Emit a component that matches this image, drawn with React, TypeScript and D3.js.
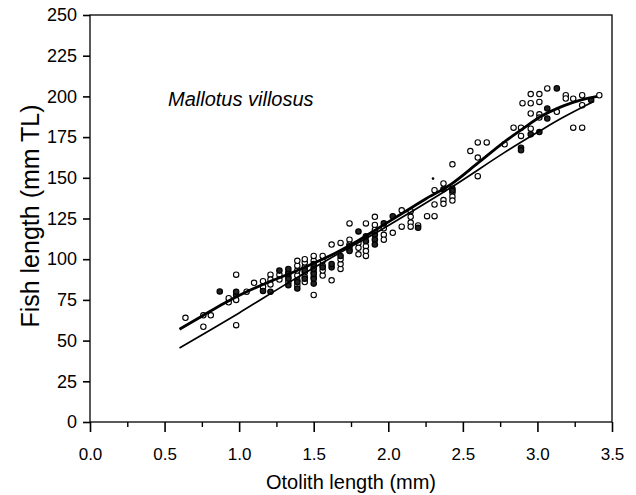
import React, { useEffect, useRef } from "react";
import * as d3 from "d3";

const xTicks = [0, 0.5, 1, 1.5, 2, 2.5, 3, 3.5];
const xMinorTicks = [0.25, 0.75, 1.25, 1.75, 2.25, 2.75, 3.25];
const yTicks = [0, 25, 50, 75, 100, 125, 150, 175, 200, 225, 250];

const speciesLabel = "Mallotus villosus";
const xTitle = "Otolith length (mm)";
const yTitle = "Fish length (mm TL)";

const openPoints: [number, number][] = [
  [0.64, 64], [0.76, 65.5], [0.81, 65.5], [0.76, 58.5], [0.98, 90.5], [0.98, 59.5],
  [0.93, 73.5], [0.93, 76], [0.98, 75], [1.05, 80], [1.1, 85.5], [1.16, 86.5], [1.16, 83],
  [1.21, 90.5], [1.21, 87.5], [1.21, 84.5], [1.27, 90.5], [1.27, 87.5],
  [1.33, 86], [1.33, 89], [1.33, 92],
  [1.39, 84], [1.39, 87], [1.39, 90], [1.39, 93], [1.39, 96], [1.39, 99],
  [1.44, 86], [1.44, 89], [1.44, 92], [1.44, 95], [1.44, 98], [1.44, 100],
  [1.5, 78], [1.5, 89], [1.5, 92], [1.5, 95], [1.5, 99], [1.5, 102],
  [1.56, 90], [1.56, 93], [1.56, 96], [1.56, 99], [1.56, 102],
  [1.62, 109], [1.62, 87],
  [1.68, 110], [1.68, 94], [1.68, 97], [1.68, 100],
  [1.74, 122], [1.74, 112], [1.74, 109], [1.74, 106],
  [1.8, 110], [1.8, 107], [1.8, 103],
  [1.85, 122], [1.85, 108], [1.85, 105], [1.85, 102],
  [1.91, 126], [1.91, 121], [1.91, 118],
  [1.97, 119], [1.97, 115], [1.97, 112],
  [2.03, 116.2],
  [2.09, 130], [2.09, 120],
  [2.15, 129.5], [2.15, 126], [2.15, 122.5], [2.15, 120],
  [2.2, 120.7],
  [2.26, 126.4],
  [2.31, 126.4], [2.31, 133.6], [2.31, 142.4],
  [2.37, 146.5], [2.37, 136.3], [2.37, 134],
  [2.43, 158.3], [2.43, 140.8], [2.43, 138.4], [2.43, 136],
  [2.55, 166.4],
  [2.6, 171.7], [2.6, 162.4], [2.6, 151],
  [2.66, 171.7],
  [2.78, 170.6],
  [2.84, 180.8],
  [2.89, 180.8], [2.89, 175.7],
  [2.9, 195.8],
  [2.955, 201.4], [2.955, 195.8], [2.955, 189.5], [2.955, 180.2],
  [3.013, 201.4], [3.013, 196.6], [3.013, 189], [3.013, 187],
  [3.066, 204.9],
  [3.13, 190.5],
  [3.19, 200.7], [3.19, 198.7],
  [3.24, 198.6], [3.24, 180.8],
  [3.3, 200.7], [3.3, 194.6], [3.3, 180.8],
  [3.415, 200.7],
];

const filledPoints: [number, number][] = [
  [0.87, 80.2], [0.98, 78], [0.98, 80], [1.16, 80.5], [1.21, 80], [1.27, 93],
  [1.33, 84], [1.33, 88], [1.33, 91], [1.33, 94],
  [1.39, 82], [1.39, 86],
  [1.44, 88], [1.44, 93],
  [1.5, 85], [1.5, 88], [1.5, 91], [1.5, 94], [1.5, 97],
  [1.56, 95],
  [1.62, 95], [1.62, 97],
  [1.68, 102],
  [1.74, 105], [1.74, 108],
  [1.8, 117],
  [1.85, 114], [1.85, 111],
  [1.91, 115], [1.91, 112], [1.91, 109],
  [1.97, 122],
  [2.03, 126.4],
  [2.2, 119.3],
  [2.37, 143],
  [2.43, 143.3], [2.43, 142],
  [2.89, 168.5], [2.89, 166.9],
  [2.955, 176.7],
  [3.013, 178.1],
  [3.066, 192.6], [3.066, 186.4],
  [3.13, 204.9],
  [3.36, 197.8],
];

const smallDots: [number, number][] = [[2.3, 149.5]];

const thickCurve: [number, number][] = [
  [0.6, 57], [0.75, 65], [0.9, 73], [1.05, 80], [1.2, 86], [1.35, 91.5], [1.5, 97.5],
  [1.65, 104], [1.8, 111.5], [1.95, 120], [2.1, 128.5], [2.25, 137], [2.42, 146],
  [2.6, 159], [2.77, 171.5], [2.9, 180], [3.02, 187.5], [3.17, 194], [3.3, 198], [3.4, 200],
];

const thinLine: [number, number][] = [
  [0.6, 45.5], [1.0, 67], [1.32, 85], [1.6, 100], [1.95, 118], [2.42, 144],
  [2.77, 165], [3.02, 179], [3.17, 187], [3.38, 197],
];

const FONT = "'Liberation Sans', Arial, Helvetica, sans-serif";

export default function App() {
  const ref = useRef<SVGSVGElement>(null);

  useEffect(() => {
    const svg = d3.select(ref.current);
    svg.selectAll("*").remove();

    const x = d3.scaleLinear().domain([0, 3.5]).range([90, 612]);
    const y = d3.scaleLinear().domain([0, 250]).range([422, 15]);

    // frame
    svg.append("rect")
      .attr("x", x(0)).attr("y", y(250))
      .attr("width", x(3.5) - x(0)).attr("height", y(0) - y(250))
      .attr("fill", "none").attr("stroke", "#000").attr("stroke-width", 1.3);

    // x axis
    const xAxis = d3.axisBottom(x)
      .tickValues(xTicks)
      .tickSize(10)
      .tickSizeOuter(0)
      .tickPadding(16)
      .tickFormat(d3.format(".1f") as any);
    const gx = svg.append("g").attr("transform", `translate(0,${y(0)})`).call(xAxis as any);
    gx.select(".domain").remove();
    gx.selectAll("line").attr("stroke", "#000").attr("stroke-width", 1.6);
    gx.selectAll("text").attr("font-family", FONT).attr("font-size", 17).attr("fill", "#000");

    const xMinor = d3.axisBottom(x).tickValues(xMinorTicks).tickSize(5).tickSizeOuter(0).tickFormat(() => "");
    const gxm = svg.append("g").attr("transform", `translate(0,${y(0)})`).call(xMinor as any);
    gxm.select(".domain").remove();
    gxm.selectAll("line").attr("stroke", "#000").attr("stroke-width", 1.4);

    // y axis
    const yAxis = d3.axisLeft(y)
      .tickValues(yTicks)
      .tickSize(7)
      .tickSizeOuter(0)
      .tickPadding(6)
      .tickFormat(d3.format("d") as any);
    const gy = svg.append("g").attr("transform", `translate(${x(0)},0)`).call(yAxis as any);
    gy.select(".domain").remove();
    gy.selectAll("line").attr("stroke", "#000").attr("stroke-width", 1.6);
    gy.selectAll("text").attr("font-family", FONT).attr("font-size", 18).attr("fill", "#000");

    // points
    svg.append("g").selectAll("circle").data(openPoints).join("circle")
      .attr("cx", (d) => x(d[0])).attr("cy", (d) => y(d[1])).attr("r", 2.7)
      .attr("fill", "#fff").attr("stroke", "#000").attr("stroke-width", 1.1);
    svg.append("g").selectAll("circle").data(filledPoints).join("circle")
      .attr("cx", (d) => x(d[0])).attr("cy", (d) => y(d[1])).attr("r", 2.7)
      .attr("fill", "#222").attr("stroke", "#000").attr("stroke-width", 1.2);
    svg.append("g").selectAll("circle").data(smallDots).join("circle")
      .attr("cx", (d) => x(d[0])).attr("cy", (d) => y(d[1])).attr("r", 1.3)
      .attr("fill", "#000");

    // curves
    const line = d3.line<[number, number]>()
      .x((d) => x(d[0])).y((d) => y(d[1]))
      .curve(d3.curveCatmullRom.alpha(0.5));
    svg.append("path").attr("d", line(thinLine)!)
      .attr("fill", "none").attr("stroke", "#000").attr("stroke-width", 1.7);
    svg.append("path").attr("d", line(thickCurve)!)
      .attr("fill", "none").attr("stroke", "#000").attr("stroke-width", 2.8);

    // texts
    svg.append("text").text(speciesLabel)
      .attr("x", 168).attr("y", 106)
      .attr("font-family", FONT).attr("font-size", 20).attr("font-style", "italic").attr("fill", "#000");
    svg.append("text").text(xTitle)
      .attr("x", (x(0) + x(3.5)) / 2).attr("y", 489).attr("text-anchor", "middle")
      .attr("font-family", FONT).attr("font-size", 20).attr("fill", "#000");
    svg.append("text").text(yTitle)
      .attr("transform", `translate(39,216) rotate(-90)`).attr("text-anchor", "middle")
      .attr("font-family", FONT).attr("font-size", 25).attr("fill", "#000");
  }, []);

  return (
    <div style={{ position: "absolute", left: 0, top: 0 }}>
      <svg ref={ref} width={636} height={495} style={{ display: "block", background: "#fff" }} />
    </div>
  );
}
